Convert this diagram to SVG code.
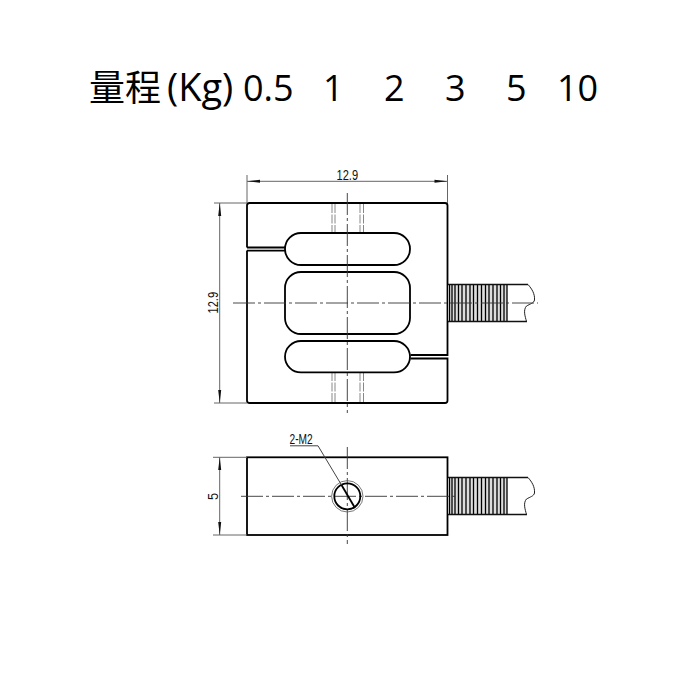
<svg xmlns="http://www.w3.org/2000/svg" width="682" height="682" viewBox="0 0 682 682">
<defs>
<style>
.o{fill:none;stroke:#000;stroke-width:1.800}
.t{fill:none;stroke:#222;stroke-width:1}
.d{fill:none;stroke:#666;stroke-width:1}
.c{fill:none;stroke:#333;stroke-width:.9;stroke-dasharray:22 3 3 3}
.h{fill:none;stroke:#888;stroke-width:1;stroke-dasharray:9 1.5}
.f{fill:#111}
.l{font-family:"Liberation Sans",Arial,sans-serif;font-size:15px;fill:#111}
.n{font-family:"Open Sans","Noto Sans CJK SC",sans-serif;font-size:36px;fill:#000}
</style>
<g id="thread">
<rect x="448" y="284.500" width="59" height="37" fill="#ddd"/>
<path d="M449.500 284.500V321.500M452 284.500V321.500M455 284.500V321.500M458.500 284.500V321.500M462 284.500V321.500M466 284.500V321.500M470 284.500V321.500M473.500 284.500V321.500M477.500 284.500V321.500M481.500 284.500V321.500M485.500 284.500V321.500M489 284.500V321.500M493 284.500V321.500M497 284.500V321.500M500.500 284.500V321.500M504 284.500V321.500M507 284.500V321.500" stroke="#000" stroke-width="1.300" fill="none"/>
<path d="M448 284.500H528M448 321.500H527" stroke="#111" stroke-width="1.300" fill="none"/>
</g>
</defs>
<g id="title">
<text class="n" x="89" y="101" style="font-family:'Noto Sans CJK SC',sans-serif">量程</text>
<text class="n" x="167" y="101" style="font-size:38px">(Kg)</text>
<text class="n" x="243" y="101">0.5</text>
<text class="n" x="323" y="101">1</text>
<text class="n" x="384" y="101">2</text>
<text class="n" x="445" y="101">3</text>
<text class="n" x="506" y="101">5</text>
<text class="n" x="557" y="101">10</text>
</g>
<g id="top-view">
<path class="h" d="M332 204V233M335 204V233M360 204V233M363.500 204V233M332 372V402M335 372V402M360 372V402M363.500 372V402"/>
<path class="o" d="M247 247.500V205.500Q247 203 249.500 203H445Q447.500 203 447.500 205.500V355H410.500M247 250.500V400.500Q247 403 249.500 403H445Q447.500 403 447.500 400.500V358.500H410.500"/>
<path class="o" d="M247 247.500H285M247 250.700H285"/>
<path class="o" d="M301 233H394A16 16 0 0 1 394 265H301A16 16 0 0 1 301 233Z"/>
<rect class="o" x="285" y="272" width="125" height="62" rx="16" ry="16"/>
<path class="o" d="M301 341H394A16 15.700 0 0 1 394 372.400H301A16 15.700 0 0 1 301 341Z"/>
<use href="#thread"/>
<path class="t" d="M528 284.500C532 289 535 294 534.500 300C534 303 530 304 526.500 306C523 310 525 316 526.500 321.500"/>
<path class="c" d="M233 303H538M347.300 193V413"/>
</g>
<g id="bottom-view">
<rect class="o" x="247" y="457.300" width="200.500" height="77.700"/>
<use href="#thread" y="193"/>
<path class="t" d="M528 477.500C532 482 535 487 534.500 493C534 496 530 497 526.500 499C523 503 525 509 526.500 514.500"/>
<path class="c" d="M241 496.300H456M347.300 447V544"/>
<circle cx="347.300" cy="496.300" r="13" class="o"/>
<circle cx="347.300" cy="496.300" r="15.700" fill="none" stroke="#555" stroke-width=".8"/>
<path class="o" d="M341.500 485L355 508"/>
</g>
<g id="connectors">
<path class="d" d="M247 175V203M447.500 175V203M214 203H247M214 403H247M213 457.300H247M213 535H247"/>
<path class="d" d="M247 181.300H447.500M219.700 203V403M219.700 457.300V535"/>
<path class="f" d="M247 181.300L260 179.800V182.800ZM447.500 181.300L434.500 179.800V182.800ZM219.700 203L218.200 216H221.200ZM219.700 403L218.200 390H221.200ZM219.700 457.300L218.200 470H221.200ZM219.700 535L218.200 522H221.200Z"/>
<path class="t" style="stroke:#444" d="M290 445.800H318L341.500 485"/>
</g>
<g id="labels">
<text class="l" transform="translate(336.500 180) scale(.74 1)">12.9</text>
<text class="l" transform="translate(217.500 313.500) rotate(-90) scale(.74 1)">12.9</text>
<text class="l" transform="translate(217.500 500) rotate(-90) scale(.85 1)">5</text>
<text class="l" transform="translate(289.500 443.500) scale(.68 1)">2-M2</text>
</g>
</svg>
